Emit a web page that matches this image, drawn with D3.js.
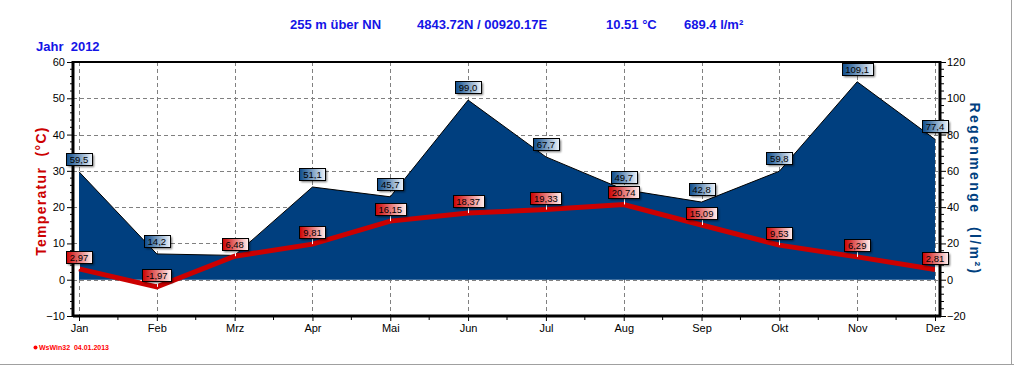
<!DOCTYPE html>
<html><head><meta charset="utf-8">
<script src="https://cdn.jsdelivr.net/npm/d3@7/dist/d3.min.js"></script>
<style>
body{margin:0;background:#fff;}
svg{display:block;font-family:"Liberation Sans",Arial,sans-serif;}
text{white-space:pre;}
</style></head><body>
<script>
const months = ["Jan","Feb","Mrz","Apr","Mai","Jun","Jul","Aug","Sep","Okt","Nov","Dez"];
const temperature = [2.97,-1.97,6.48,9.81,16.15,18.37,19.33,20.74,15.09,9.53,6.29,2.81];
const rain = [59.5,14.2,13.4,51.1,45.7,99.0,67.7,49.7,42.8,59.8,109.1,77.4];
const tempTicks = [-10,0,10,20,30,40,50,60];
const rainTicks = [-20,0,20,40,60,80,100,120];
const headerTexts = ["255 m über NN","4843.72N / 00920.17E","10.51 °C","689.4 l/m²"];

const W=1014,H=366;
const svg=d3.select("body").append("svg").attr("width",W).attr("height",H);
const defs=svg.append("defs");
const gb=defs.append("linearGradient").attr("id","gBlue");
gb.append("stop").attr("offset","0%").attr("stop-color","#0b4a8a");
gb.append("stop").attr("offset","100%").attr("stop-color","#eef4fb");
const gr=defs.append("linearGradient").attr("id","gRed");
gr.append("stop").attr("offset","0%").attr("stop-color","#cc0000");
gr.append("stop").attr("offset","100%").attr("stop-color","#fff0f0");
const sh=defs.append("filter").attr("id","sh").attr("x","-30%").attr("y","-50%").attr("width","170%").attr("height","220%");
sh.append("feGaussianBlur").attr("stdDeviation",1.2);

const L=73,R=940,T=62,B=316;
const x=d3.scalePoint().domain(months).range([79,935]);
const yT=d3.scaleLinear().domain([-10,60]).range([B,T]);
const yR=d3.scaleLinear().domain([-20,120]).range([B,T]);

// header
const hx=[290,417,606,684];
headerTexts.forEach((t,i)=>svg.append("text").attr("x",hx[i]).attr("y",29).attr("fill","#1414e6")
  .attr("font-size",13).attr("font-weight","bold").text(t));
svg.append("text").attr("x",36).attr("y",51).attr("fill","#1414e6").attr("font-size",13).attr("font-weight","bold").text("Jahr  2012");

// grid
const grid=svg.append("g").attr("stroke","#808080").attr("stroke-dasharray","4,3").attr("stroke-width",1);
tempTicks.filter(v=>v>-10&&v<60).forEach(v=>grid.append("line").attr("x1",L).attr("x2",R).attr("y1",Math.round(yT(v))+0.5).attr("y2",Math.round(yT(v))+0.5));
months.forEach(m=>grid.append("line").attr("x1",Math.round(x(m))+0.5).attr("x2",Math.round(x(m))+0.5).attr("y1",T).attr("y2",B));

// rain area
const area=d3.area().x((d,i)=>x(months[i])).y0(yR(0)).y1(d=>yR(d));
svg.append("path").datum(rain).attr("d",area).attr("fill","#003f7f");
svg.append("path").datum(rain).attr("d",d3.line().x((d,i)=>x(months[i])).y(d=>yR(d))).attr("fill","none").attr("stroke","#000").attr("stroke-width",1);

// temperature line
svg.append("path").datum(temperature).attr("d",d3.line().x((d,i)=>x(months[i])).y(d=>yT(d)))
  .attr("fill","none").attr("stroke","#cc0000").attr("stroke-width",5);

// frame
svg.append("line").attr("x1",L).attr("x2",R).attr("y1",T).attr("y2",T).attr("stroke","#000").attr("stroke-width",2);
svg.append("line").attr("x1",L).attr("x2",R+1).attr("y1",B).attr("y2",B).attr("stroke","#000").attr("stroke-width",3);
svg.append("line").attr("x1",L).attr("x2",L).attr("y1",T-1).attr("y2",B+1).attr("stroke","#000").attr("stroke-width",3);
svg.append("line").attr("x1",R).attr("x2",R).attr("y1",T-1).attr("y2",B+1).attr("stroke","#000").attr("stroke-width",3);

// left axis
const la=d3.axisLeft(yT).tickValues(tempTicks).tickSize(5).tickPadding(2).tickFormat(d3.format("d"));
const gl=svg.append("g").attr("transform",`translate(${L-1},0)`).call(la);
gl.select(".domain").remove();
gl.selectAll("text").attr("font-size",11).attr("font-family","Liberation Sans, Arial, sans-serif").attr("fill","#000");
gl.selectAll("line").attr("stroke","#000");
const lminor=d3.range(-10,61,2).filter(v=>v%10!==0);
svg.append("g").selectAll("line").data(lminor).join("line").attr("x1",L-3).attr("x2",L).attr("y1",d=>yT(d)).attr("y2",d=>yT(d)).attr("stroke","#000");

// right axis
const ra=d3.axisRight(yR).tickValues(rainTicks).tickSize(5).tickPadding(1).tickFormat(d3.format("d"));
const grr=svg.append("g").attr("transform",`translate(${R+1},0)`).call(ra);
grr.select(".domain").remove();
grr.selectAll("text").attr("font-size",11).attr("font-family","Liberation Sans, Arial, sans-serif").attr("fill","#000");
grr.selectAll("line").attr("stroke","#000");
const rminor=d3.range(-20,121,4).filter(v=>v%20!==0);
svg.append("g").selectAll("line").data(rminor).join("line").attr("x1",R).attr("x2",R+4).attr("y1",d=>yR(d)).attr("y2",d=>yR(d)).attr("stroke","#000");

// bottom axis
const ba=d3.axisBottom(x).tickSize(4).tickPadding(3);
const gbx=svg.append("g").attr("transform",`translate(0,${B+1})`).call(ba);
gbx.select(".domain").remove();
gbx.selectAll("text").attr("font-size",11).attr("font-family","Liberation Sans, Arial, sans-serif").attr("fill","#000");
gbx.selectAll("line").attr("stroke","#000");
const mids=months.slice(0,-1).map((m,i)=>(x(m)+x(months[i+1]))/2);
svg.append("g").selectAll("line").data(mids).join("line").attr("x1",d=>d).attr("x2",d=>d).attr("y1",B+1).attr("y2",B+4).attr("stroke","#000");

// axis titles
svg.append("text").attr("transform","translate(46,191) rotate(-90)").attr("text-anchor","middle")
  .attr("fill","#cc0000").attr("font-size",14).attr("font-weight","bold").attr("letter-spacing",1.3).text("Temperatur  (°C)");
svg.append("text").attr("transform","translate(970,189) rotate(90)").attr("text-anchor","middle")
  .attr("fill","#003f7f").attr("font-size",14).attr("font-weight","bold").attr("letter-spacing",2.4).text("Regenmenge  (l/m²)");

// value labels
const H_LBL=12;
function measure(txt){
  const t=svg.append("text").attr("font-size",9.5).attr("font-family","Liberation Sans, Arial, sans-serif").text(txt);
  const w=Math.ceil(t.node().getComputedTextLength())+7; t.remove(); return w;
}
function box(cx,py,txt){const w=measure(txt);return {x:Math.round(cx-w/2),y:Math.round(py-6-H_LBL),w,h:H_LBL};}
function label(cx,py,txt,grad,stem){
  const b=box(cx,py,txt);
  const g=svg.append("g");
  if(stem) g.append("line").attr("x1",Math.round(cx)+0.5).attr("x2",Math.round(cx)+0.5).attr("y1",b.y+b.h).attr("y2",py).attr("stroke","#fff").attr("stroke-width",1);
  g.append("rect").attr("x",b.x+2).attr("y",b.y+2).attr("width",b.w).attr("height",b.h).attr("fill","#000").attr("opacity",0.55).attr("filter","url(#sh)");
  g.append("rect").attr("x",b.x+0.5).attr("y",b.y+0.5).attr("width",b.w).attr("height",b.h).attr("fill",`url(#${grad})`).attr("stroke","#000").attr("stroke-width",1);
  g.append("text").attr("font-size",9.5).attr("font-family","Liberation Sans, Arial, sans-serif")
    .attr("x",cx).attr("y",b.y+b.h-2.5).attr("text-anchor","middle").attr("fill","#000").text(txt);
}
const fmt1=v=>d3.format(".1f")(v).replace(".",",");
const fmt2=v=>d3.format(".2f")(v).replace(".",",").replace("−","-");
const overlap=(a,b)=>a.x<b.x+b.w&&b.x<a.x+a.w&&a.y<b.y+b.h&&b.y<a.y+a.h;
rain.forEach((v,i)=>{
  const rb=box(x(months[i]),yR(v)-1,fmt1(v));
  const tb=box(x(months[i]),yT(temperature[i]),fmt2(temperature[i]));
  if(!overlap(rb,tb)) label(x(months[i]),yR(v)-1,fmt1(v),"gBlue",false);
});
temperature.forEach((v,i)=>label(x(months[i]),yT(v),fmt2(v),"gRed",true));

// footer
svg.append("circle").attr("cx",35.5).attr("cy",347.5).attr("r",2).attr("fill","#ff0000");
svg.append("text").attr("x",39).attr("y",350).attr("fill","#ff0000").attr("font-size",7).attr("font-weight","bold").text("WsWin32  04.01.2013");

// window border lines
svg.append("line").attr("x1",0).attr("x2",W).attr("y1",364.5).attr("y2",364.5).attr("stroke","#a0a0a0");
svg.append("line").attr("x1",1011.5).attr("x2",1011.5).attr("y1",0).attr("y2",365).attr("stroke","#a0a0a0");
</script>
</body></html>
